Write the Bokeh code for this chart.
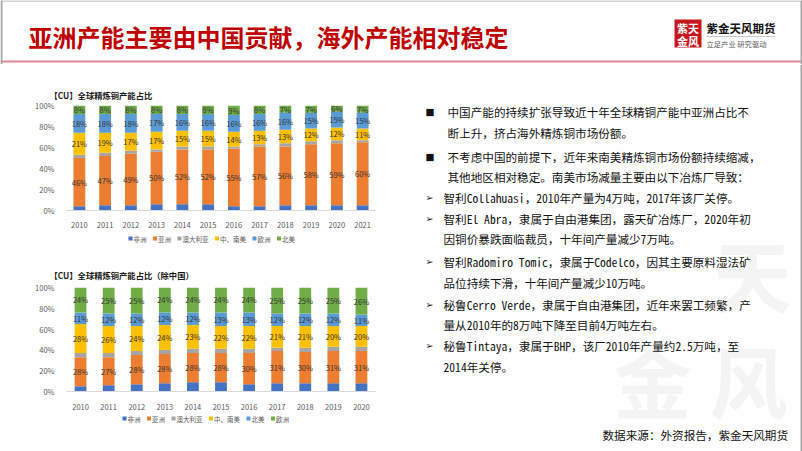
from bokeh.plotting import figure
from bokeh.models import (ColumnDataSource, FactorRange, Range1d, LabelSet, Title,
                          FixedTicker, PrintfTickFormatter)
from bokeh.layouts import column, row
from bokeh.embed import file_html
from bokeh.resources import INLINE
from bokeh.core.properties import value

FONT = "Noto Sans CJK SC"
BODY_FONT = "Noto Sans Mono CJK SC, Noto Sans CJK SC"

# ---------------- data ----------------
slide_title = "亚洲产能主要由中国贡献，海外产能相对稳定"
logo_name = "紫金天风期货"
logo_slogan = "立足产业  研究驱动"
source_note = "数据来源：外资报告，紫金天风期货"

chart1_title = "【CU】全球精炼铜产能占比"
years1 = ["2010", "2011", "2012", "2013", "2014", "2015", "2016", "2017", "2018", "2019", "2020", "2021"]
names1 = ["非洲", "亚洲", "澳大利亚", "中、南美", "欧洲", "北美"]
africa1 = [4, 5, 5, 6, 6, 6, 4, 4, 5, 5, 5, 5]
asia1 = [46, 47, 49, 50, 52, 52, 55, 57, 56, 58, 59, 60]
aus1 = [3, 3, 3, 2, 3, 3, 2, 2, 3, 3, 3, 2]
latam1 = [21, 19, 17, 17, 15, 15, 14, 13, 13, 12, 12, 11]
europe1 = [18, 18, 18, 17, 16, 16, 16, 16, 16, 15, 15, 15]
namer1 = [8, 8, 8, 8, 8, 8, 9, 8, 7, 7, 6, 7]

chart2_title = "【CU】全球精炼铜产能占比（除中国）"
years2 = ["2010", "2011", "2012", "2013", "2014", "2015", "2016", "2017", "2018", "2019", "2020"]
names2 = ["非洲", "亚洲", "澳大利亚", "中、南美", "北美", "欧洲"]
africa2 = [5, 6, 7, 8, 9, 9, 7, 8, 8, 8, 8]
asia2 = [28, 27, 28, 28, 28, 28, 30, 31, 30, 31, 31]
aus2 = [4, 4, 4, 4, 4, 4, 4, 3, 4, 4, 4]
latam2 = [28, 26, 24, 24, 23, 22, 22, 21, 21, 20, 20]
namer2 = [11, 12, 12, 12, 12, 13, 13, 12, 12, 12, 11]
europe2 = [24, 25, 25, 24, 24, 24, 24, 25, 25, 25, 26]

y_ticks = [0, 20, 40, 60, 80, 100]

body_bullets = ["■", "", "■", "", "➢", "➢", "", "➢", "", "➢", "", "➢", ""]
body_lines = [
    "中国产能的持续扩张导致近十年全球精铜产能中亚洲占比不",
    "断上升，挤占海外精炼铜市场份额。",
    "不考虑中国的前提下，近年来南美精炼铜市场份额持续缩减，",
    "其他地区相对稳定。南美市场减量主要由以下冶炼厂导致：",
    "智利Collahuasi，2010年产量为4万吨，2017年该厂关停。",
    "智利El Abra，隶属于自由港集团，露天矿冶炼厂，2020年初",
    "因铜价暴跌面临裁员，十年间产量减少7万吨。",
    "智利Radomiro Tomic，隶属于Codelco，因其主要原料湿法矿",
    "品位持续下滑，十年间产量减少10万吨。",
    "秘鲁Cerro Verde，隶属于自由港集团，近年来罢工频繁，产",
    "量从2010年的8万吨下降至目前4万吨左右。",
    "秘鲁Tintaya，隶属于BHP，该厂2010年产量约2.5万吨，至",
    "2014年关停。",
]

C_AFR, C_ASIA, C_AUS, C_LAT, C_BLUE, C_GREEN = "#4472C4", "#ED7D31", "#A5A5A5", "#FFC000", "#5B9BD5", "#70AD47"
COLORS = [C_AFR, C_ASIA, C_AUS, C_LAT, C_BLUE, C_GREEN]

LEFT_W = 400
FRAME_L = 66
FRAME_W = 309
FRAME_R = LEFT_W - FRAME_L - FRAME_W


def static_fig(w, h, x0, x1, y0, y1, bl=0, br=0):
    p = figure(width=w, height=h, x_range=Range1d(x0, x1), y_range=Range1d(y1, y0),
               x_axis_type=None, y_axis_type=None, toolbar_location=None,
               output_backend="svg", min_border_left=bl, min_border_right=br,
               min_border_top=0, min_border_bottom=0)
    p.grid.visible = False
    p.outline_line_color = None
    p.background_fill_color = "white"
    return p


def left_static(y0, y1):
    return static_fig(LEFT_W, y1 - y0, FRAME_L, FRAME_L + FRAME_W, y0, y1, FRAME_L, FRAME_R)


def make_chart(years, series, labeled, height, b_top, b_bottom, bar_w, standoff, title, t_standoff):
    data = dict(year=years)
    keys = []
    for i, s in enumerate(series):
        data[f"s{i}"] = s
        keys.append(f"s{i}")
    src = ColumnDataSource(data)
    p = figure(width=LEFT_W, height=height, x_range=FactorRange(*years), y_range=Range1d(0, 100),
               toolbar_location=None, output_backend="svg",
               min_border_left=FRAME_L, min_border_right=FRAME_R, min_border_top=b_top,
               min_border_bottom=b_bottom)
    p.title = Title(text=title, align="left", offset=-17, standoff=t_standoff,
                    text_font=FONT, text_font_size="8.3px", text_font_style="bold",
                    text_color="#1a1a1a")
    p.vbar_stack(keys, x="year", width=bar_w, source=src, fill_color=COLORS, line_color=None)
    lx, ly, lt = [], [], []
    bottoms = [0] * len(years)
    for i, s in enumerate(series):
        for j, v in enumerate(s):
            if i in labeled:
                lx.append(years[j])
                ly.append(bottoms[j] + v / 2)
                lt.append(f"{v}%")
            bottoms[j] += v
    lsrc = ColumnDataSource(dict(x=lx, y=ly, t=lt))
    p.add_layout(LabelSet(x="x", y="y", text="t", source=lsrc, text_align="center",
                          text_baseline="middle", text_font_size="7.5px",
                          text_color="#333333", text_font=value(FONT)))
    p.xgrid.visible = False
    p.ygrid.visible = False
    p.outline_line_color = None
    p.xaxis.axis_line_color = "#D9D9D9"
    p.xaxis.major_tick_line_color = None
    p.xaxis.minor_tick_line_color = None
    p.xaxis.major_label_text_font_size = "7.5px"
    p.xaxis.major_label_text_color = "#595959"
    p.xaxis.major_label_text_font = FONT
    p.xaxis.major_label_standoff = standoff
    p.yaxis.axis_line_color = None
    p.yaxis.major_tick_line_color = None
    p.yaxis.minor_tick_line_color = None
    p.yaxis.ticker = FixedTicker(ticks=y_ticks)
    p.yaxis.formatter = PrintfTickFormatter(format="%d%%")
    p.yaxis.major_label_text_font_size = "7.5px"
    p.yaxis.major_label_text_color = "#595959"
    p.yaxis.major_label_text_font = FONT
    p.yaxis.major_label_standoff = 6
    return p


def legend_fig(names, y0, y1, ly, x_start):
    p = left_static(y0, y1)
    fs = 6.5
    xs, tx = [], []
    x = x_start
    for n in names:
        xs.append(x + 2)
        tx.append(x + 5)
        x += 5 + len(n) * fs + 6.5
    p.scatter(x=xs, y=[ly] * len(names), marker="square", size=4, fill_color=COLORS, line_color=None)
    p.text(x=tx, y=[ly] * len(names), text=names, text_font=value(FONT), text_font_size=f"{fs}px",
           text_color="#595959", text_baseline="middle")
    return p


# ---------------- header ----------------
hdr = static_fig(802, 64, 0, 802, 0, 64)
hdr.text(x=[28], y=[36], text=[slide_title], text_font=value(FONT), text_font_size="24px",
         text_font_style="bold", text_color="#C00000", text_baseline="middle")
hdr.quad(left=[674], right=[701], top=[19], bottom=[47], fill_color="#C8161D", line_color=None)
hdr.text(x=[687.5, 687.5], y=[27, 40], text=["紫天", "金风"], text_font=value(FONT),
         text_font_size="11px", text_color="white", text_align="center", text_baseline="middle",
         text_font_style="bold")
hdr.text(x=[706], y=[27], text=[logo_name], text_font=value(FONT), text_font_size="11.5px",
         text_font_style="bold", text_color="#111111", text_baseline="middle")
hdr.segment(x0=[706], x1=[775], y0=[36], y1=[36], line_color="#999999", line_width=0.5)
hdr.text(x=[706], y=[43], text=[logo_slogan], text_font=value(FONT), text_font_size="7.3px",
         text_color="#555555", text_baseline="middle")
hdr.segment(x0=[0], x1=[802], y0=[61], y1=[61], line_color="#D98A94", line_width=2)
hdr.segment(x0=[1, 801, 0], x1=[1, 801, 802], y0=[0, 0, 0.5], y1=[64, 64, 0.5],
            line_color="#A6A6A6", line_width=[2, 2, 1])

# ---------------- charts ----------------
ch1 = make_chart(years1, [africa1, asia1, aus1, latam1, europe1, namer1], {1, 3, 4, 5},
                 166, 41, 18, 0.46, 5, chart1_title, 10)
lg1 = legend_fig(names1, 230, 255, 238, 128)
ch2 = make_chart(years2, [africa2, asia2, aus2, latam2, namer2, europe2], {1, 3, 4, 5},
                 157, 32, 19, 0.42, 6, chart2_title, 14)
lg2 = legend_fig(names2, 412, 451, 418, 122)

# ---------------- text panel ----------------
tp = static_fig(402, 387, 400, 802, 64, 451)
tp.text(x=[752, 652, 748], y=[272, 378, 378], text=["天", "金", "风"], text_font=value(FONT),
        text_font_size="78px", text_color="#F4F4F4", text_align="center", text_baseline="middle",
        text_font_style="bold")
line_y = [111, 132, 156, 176, 197, 218, 238, 261, 282, 304, 324, 345, 366]
text_x = []
bul_x, bul_y, bul_t = [], [], []
kind = None
for b, y in zip(body_bullets, line_y):
    if b:
        kind = b
        bul_x.append(425)
        bul_y.append(y)
        bul_t.append(b)
    text_x.append(447 if kind == "■" else 443)
tp.text(x=bul_x, y=bul_y, text=bul_t, text_font=value("DejaVu Sans"), text_font_size="9.5px",
        text_color="#111111", text_baseline="middle")
tp.text(x=text_x, y=line_y, text=body_lines, text_font=value(BODY_FONT), text_font_size="11.6px",
        text_color="#111111", text_baseline="middle")
tp.text(x=[602], y=[434], text=[source_note], text_font=value(BODY_FONT), text_font_size="11.6px",
        text_color="#111111", text_baseline="middle")
tp.segment(x0=[801], x1=[801], y0=[64], y1=[451], line_color="#A6A6A6", line_width=2)

left = column(ch1, lg1, ch2, lg2, spacing=0)
layout = column(hdr, row(left, tp, spacing=0), spacing=0)
open("out.html", "w").write(file_html(layout, INLINE))
